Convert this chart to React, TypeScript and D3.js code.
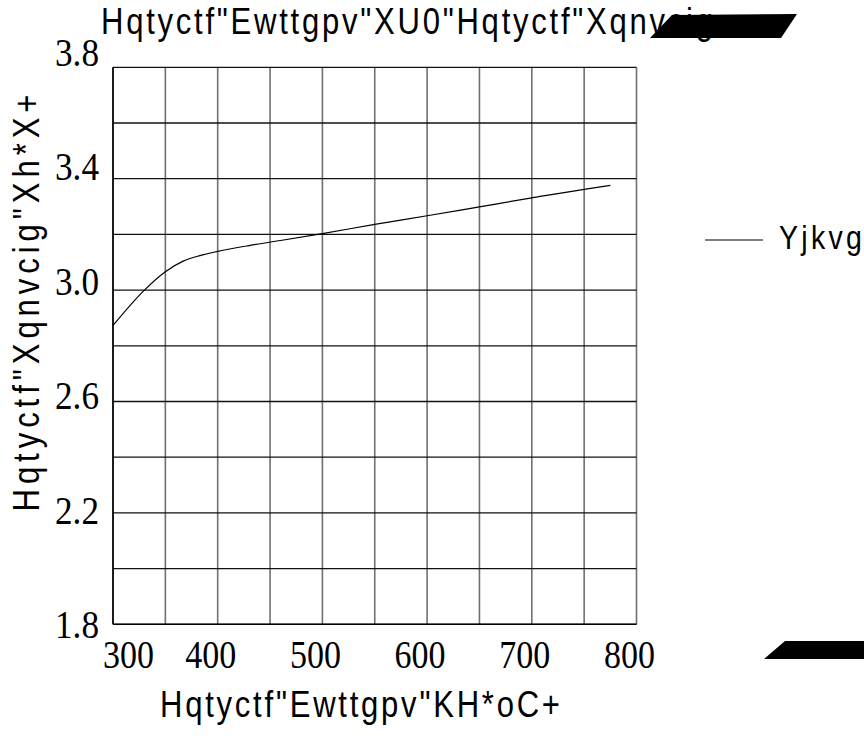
import React from 'react';
import * as d3 from 'd3';

const currentMA = [300, 330, 350, 367, 383, 400, 430, 460, 500, 550, 600, 650, 700, 750, 775];
const forwardV = [2.873, 3.0, 3.066, 3.104, 3.124, 3.139, 3.16, 3.178, 3.203, 3.236, 3.267, 3.299, 3.331, 3.362, 3.376];
const xTickValues = [300, 400, 500, 600, 700, 800];
const yTickValues = [1.8, 2.2, 2.6, 3.0, 3.4, 3.8];
const xGridValues = [300, 350, 400, 450, 500, 550, 600, 650, 700, 750, 800];
const yGridValues = [1.8, 2.0, 2.2, 2.4, 2.6, 2.8, 3.0, 3.2, 3.4, 3.6, 3.8];
const seriesName = 'Yjkvg';
const titleText = 'Hqtyctf"Ewttgpv"XU0"Hqtyctf"Xqnvcig';
const xTitleText = 'Hqtyctf"Ewttgpv"KH*oC+';
const yTitleText = 'Hqtyctf"Xqnvcig"Xh*X+';

const W = 864;
const H = 740;
const L = 113, R = 636.5, T = 67.3, B = 624.3;
const sans = '"Liberation Sans", Arial, sans-serif';
const serif = '"Liberation Serif", "Times New Roman", serif';

function NarrowText(props: { x: number; y: number; len: number; size: number; text: string; anchor?: string; rot?: number; sx?: number }) {
  const sx = props.sx ?? 0.84;
  const rot = props.rot ?? 0;
  return (
    <text
      transform={`translate(${props.x},${props.y}) rotate(${rot}) scale(${sx},1)`}
      textAnchor={props.anchor ?? 'start'}
      fontFamily={sans}
      fontSize={props.size}
      textLength={props.len / sx}
      lengthAdjust="spacing"
    >
      {props.text}
    </text>
  );
}

export default function App() {
  const x = d3.scaleLinear().domain([300, 800]).range([L, R]);
  const y = d3.scaleLinear().domain([1.8, 3.8]).range([B, T]);
  const yLab = d3.scaleLinear().domain([1.8, 3.8]).range([638, 66]);
  const pts = currentMA.map((c, i) => [c, forwardV[i]] as [number, number]);
  const line = d3.line<[number, number]>().x(d => x(d[0])).y(d => y(d[1])).curve(d3.curveMonotoneX);
  return (
    <svg width={W} height={H} style={{ position: 'absolute', left: 0, top: 0, background: '#fff' }}>
      <rect x={0} y={0} width={W} height={H} fill="#fff" />
      {xGridValues.map(v => (
        <line key={'gx' + v} x1={x(v)} x2={x(v)} y1={T} y2={B} stroke="#707070" strokeWidth={1.6} />
      ))}
      {yGridValues.map(v => (
        <line key={'gy' + v} x1={L} x2={R} y1={y(v)} y2={y(v)} stroke="#111" strokeWidth={1.3} />
      ))}
      <line x1={L} x2={L} y1={T} y2={B} stroke="#000" strokeWidth={1.6} />
      <line x1={L} x2={R} y1={B} y2={B} stroke="#000" strokeWidth={1.6} />
      <path d={line(pts) || ''} fill="none" stroke="#000" strokeWidth={1.2} />
      {yTickValues.map(v => (
        <text key={'yt' + v} x={99} y={yLab(v)} textAnchor="end" fontFamily={serif} fontSize={40}
          textLength={44} lengthAdjust="spacingAndGlyphs">{v.toFixed(1)}</text>
      ))}
      {xTickValues.map((v, i) => (
        <text key={'xt' + v} x={i === 0 ? x(v) - 10 : x(v) - 7} y={668} textAnchor={i === 0 ? 'start' : 'middle'}
          fontFamily={serif} fontSize={41} textLength={51} lengthAdjust="spacingAndGlyphs">{v}</text>
      ))}
      <NarrowText x={101} y={34} len={612} size={37} text={titleText} />
      <NarrowText x={160} y={717} len={400} size={37} text={xTitleText} />
      <NarrowText x={39} y={303} len={417} size={37} text={yTitleText} anchor="middle" rot={-90} />
      <line x1={705} x2={763} y1={240} y2={240} stroke="#000" strokeWidth={1.2} />
      <NarrowText x={779} y={249} len={83} size={34} text={seriesName} />
      <polygon points="650,38 672,15 797,14 781,38" fill="#000" />
      <polygon points="764,659 785,641 864,641 864,659" fill="#000" />
    </svg>
  );
}
